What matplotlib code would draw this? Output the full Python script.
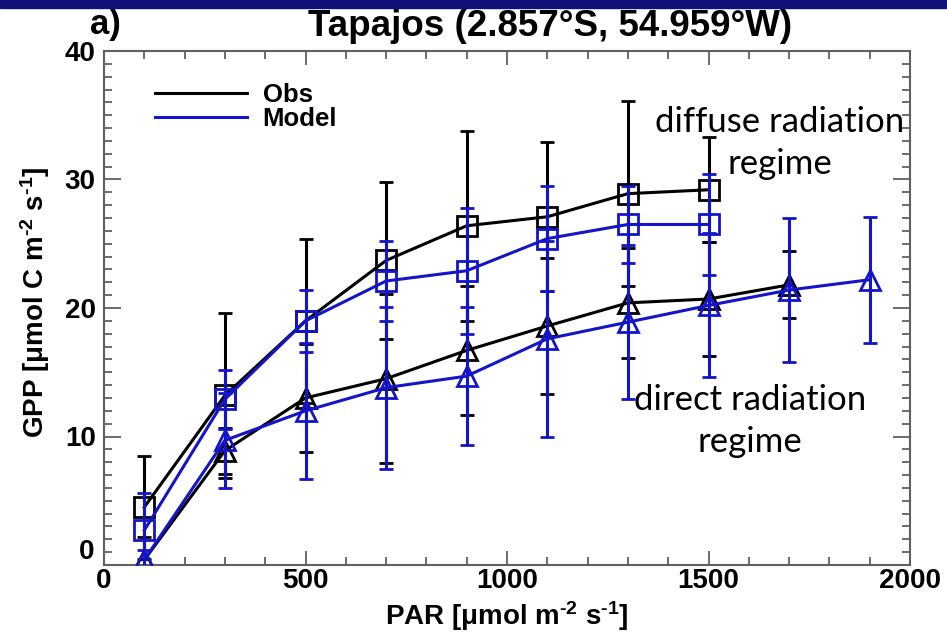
import matplotlib
matplotlib.use("Agg")
import matplotlib.pyplot as plt
from matplotlib.lines import Line2D
from matplotlib.patches import Rectangle
from matplotlib.ticker import MultipleLocator

plt.rcParams["font.family"] = ["Liberation Sans", "DejaVu Sans"]
plt.rcParams["mathtext.fontset"] = "custom"
plt.rcParams["mathtext.rm"] = "Liberation Sans:bold"
plt.rcParams["mathtext.it"] = "Liberation Sans:bold"
plt.rcParams["mathtext.bf"] = "Liberation Sans:bold"

# PAR bins (umol m-2 s-1)
par_diffuse = [100, 300, 500, 700, 900, 1100, 1300, 1500]
par_direct_obs = [100, 300, 500, 700, 900, 1100, 1300, 1500, 1700]
par_direct_mod = [100, 300, 500, 700, 900, 1100, 1300, 1500, 1700, 1900]

# GPP mean and std per bin
obs_diffuse = [4.5, 13.2, 19.0, 23.7, 26.4, 27.1, 28.9, 29.2]
obs_diffuse_sd = [4.0, 6.4, 6.4, 6.1, 7.4, 5.8, 7.2, 4.1]
mod_diffuse = [2.7, 12.9, 19.0, 22.1, 22.9, 25.4, 26.5, 26.5]
mod_diffuse_sd = [2.9, 2.3, 2.4, 3.1, 4.9, 4.1, 3.0, 3.9]

obs_direct = [0.4, 8.9, 13.0, 14.5, 16.7, 18.6, 20.4, 20.7, 21.8]
obs_direct_sd = [1.8, 1.8, 4.2, 6.6, 5.0, 5.3, 4.3, 4.4, 2.6]
mod_direct = [0.4, 9.7, 12.0, 13.8, 14.7, 17.6, 18.9, 20.2, 21.4, 22.2]
mod_direct_sd = [0.8, 3.7, 5.3, 6.3, 5.4, 7.6, 6.0, 5.6, 5.6, 4.9]

BLACK = "black"
BLUE = "#1414c8"

fig = plt.figure(figsize=(9.47, 6.36), dpi=100)
ax = fig.add_axes([104 / 947, 1 - 565 / 636, 806 / 947, 514 / 636])

# navy strip across the top of the slide
fig.patches.append(Rectangle((0, 1 - 8 / 636), 1, 8 / 636, transform=fig.transFigure,
                             color="#10107a", zorder=5))

style = dict(lw=2.2, elinewidth=2.2, capsize=5, capthick=2.2, ms=14,
             mfc="none", mew=2.0)
ax.errorbar(par_diffuse, obs_diffuse, yerr=obs_diffuse_sd, color=BLACK,
            marker="s", zorder=2, **style)
ax.errorbar(par_direct_obs, obs_direct, yerr=obs_direct_sd, color=BLACK,
            marker="^", zorder=2, **style)
ax.errorbar(par_diffuse, mod_diffuse, yerr=mod_diffuse_sd, color=BLUE,
            marker="s", zorder=3, **style)
ax.errorbar(par_direct_mod, mod_direct, yerr=mod_direct_sd, color=BLUE,
            marker="^", zorder=3, **style)

ax.set_xlim(0, 2000)
ax.set_ylim(0, 40)
ax.xaxis.set_major_locator(MultipleLocator(500))
ax.xaxis.set_minor_locator(MultipleLocator(100))
ax.yaxis.set_major_locator(MultipleLocator(10))
ax.yaxis.set_minor_locator(MultipleLocator(1))
ax.set_yticks([0, 10, 20, 30, 40], ["", "10", "20", "30", "40"])
# IDL nudged the zero label up by one minor step
ax.text(-0.012, 1, "0", transform=ax.get_yaxis_transform(), ha="right",
        va="center", fontsize=20, fontweight="bold")

spine_col = "#606060"
for s in ax.spines.values():
    s.set_color(spine_col)
    s.set_linewidth(1.5)
ax.tick_params(which="both", direction="in", top=True, right=True,
               color=spine_col, width=1.3, labelsize=20)
ax.tick_params(axis="y", which="major", length=12, pad=6)
ax.tick_params(axis="x", which="major", length=10, pad=2)
ax.tick_params(which="minor", length=6)
for lab in ax.get_xticklabels() + ax.get_yticklabels():
    lab.set_fontweight("bold")

ax.set_xlabel("PAR [$\\mu$mol m$^{\u20102}$ s$^{\u20101}$]", fontsize=20,
              fontweight="bold", labelpad=4)
ax.set_ylabel("GPP [$\\mu$mol C m$^{\u20102}$ s$^{\u20101}$]", fontsize=20,
              fontweight="bold")
ax.yaxis.set_label_coords(-0.064, 0.512)

fig.text(90 / 947, 1 - 34 / 636, "a)", fontsize=25, fontweight="bold",
         ha="left", va="baseline")
fig.text(550 / 947, 1 - 36 / 636, "Tapajos (2.857°S, 54.959°W)", fontsize=26.5,
         fontweight="bold", ha="center", va="baseline")

handles = [Line2D([], [], color=BLACK, lw=2.2), Line2D([], [], color=BLUE, lw=2.2)]
leg = ax.legend(handles, ["Obs", "Model"], loc="upper left",
                bbox_to_anchor=(0.047, 0.962), frameon=False, borderpad=0,
                handlelength=3.6, handletextpad=0.6, labelspacing=0.0,
                prop=dict(size=18.5, weight="bold"))

note = dict(fontsize=25, family=["Lato", "DejaVu Sans"], ha="center",
            va="baseline", color="black", linespacing=1.4)
ax.text(1676, 30.4, "diffuse radiation\nregime", **note)
ax.text(1603, 8.8, "direct radiation\nregime", **note)

fig.savefig("out.png", dpi=100)
